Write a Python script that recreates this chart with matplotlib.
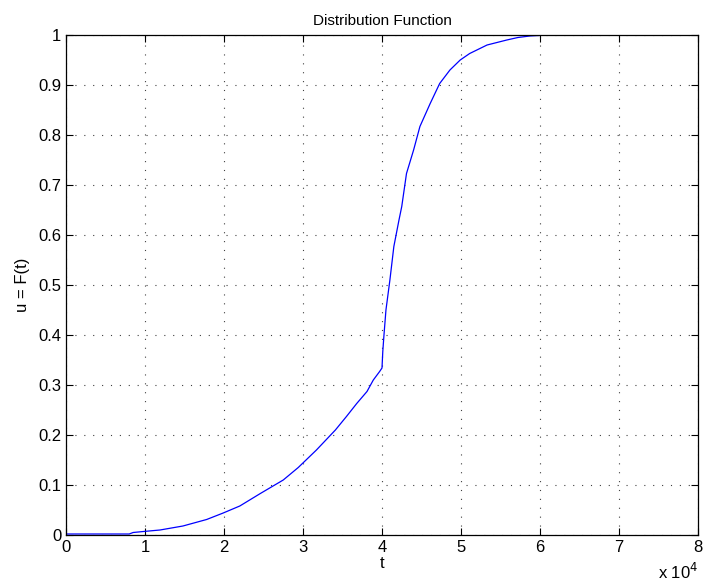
import numpy as np
import matplotlib
matplotlib.use("Agg")
import matplotlib.pyplot as plt

plt.rcParams['font.family'] = ['Liberation Sans', 'DejaVu Sans']

# t in units of 1e4 (axis multiplier shown as "x 10^4")
t = [0.0, 0.80, 0.85, 0.98, 1.19, 1.48, 1.78, 1.99, 2.20, 2.46, 2.75, 2.94,
     3.17, 3.41, 3.55, 3.68, 3.81, 3.89, 3.97, 4.00, 4.01, 4.025, 4.05,
     4.10, 4.15, 4.215, 4.25, 4.31, 4.40, 4.48, 4.61, 4.73, 4.86, 4.99,
     5.11, 5.33, 5.58, 5.72, 5.87, 6.10, 8.0]
u = [0.002, 0.002, 0.005, 0.007, 0.010, 0.018, 0.031, 0.044, 0.058, 0.083,
     0.110, 0.135, 0.170, 0.210, 0.237, 0.263, 0.287, 0.310, 0.327, 0.334,
     0.367, 0.400, 0.450, 0.510, 0.577, 0.630, 0.657, 0.723, 0.770, 0.817,
     0.863, 0.903, 0.930, 0.950, 0.963, 0.980, 0.990, 0.995, 0.998, 1.0, 1.0]

xticks = np.arange(0, 9, 1)
yticks = np.round(np.arange(0, 1.01, 0.1), 1)

fig = plt.figure(figsize=(7.04, 5.81), dpi=100)
ax = fig.add_axes([66 / 704, 46 / 581, 632 / 704, 500 / 581])
ax.plot(t, u, color='#0000ff', lw=0.9)

ax.set_xlim(0, 8)
ax.set_ylim(0, 1)
ax.set_xticks(xticks)
ax.set_xticklabels([str(v) for v in xticks])
ax.set_yticks(yticks)
ax.set_yticklabels(['0' if v == 0 else ('1' if v == 1 else f'{v:.1f}') for v in yticks])
ax.tick_params(direction='in', top=True, right=True, labelsize=12, length=5, width=0.8)
ax.grid(True, linestyle=(0, (1, 7)), color='0.25', lw=0.8)
for s in ax.spines.values():
    s.set_linewidth(0.9)

ax.set_title('Distribution Function', fontsize=11, pad=7)
ax.set_xlabel('t', fontsize=12, labelpad=1)
ax.set_ylabel('u = F(t)', fontsize=12, labelpad=6)
ax.text(1.0, -0.054, r'x 10$^4$', transform=ax.transAxes, ha='right', va='top', fontsize=12)

fig.savefig('out.png', dpi=100)
